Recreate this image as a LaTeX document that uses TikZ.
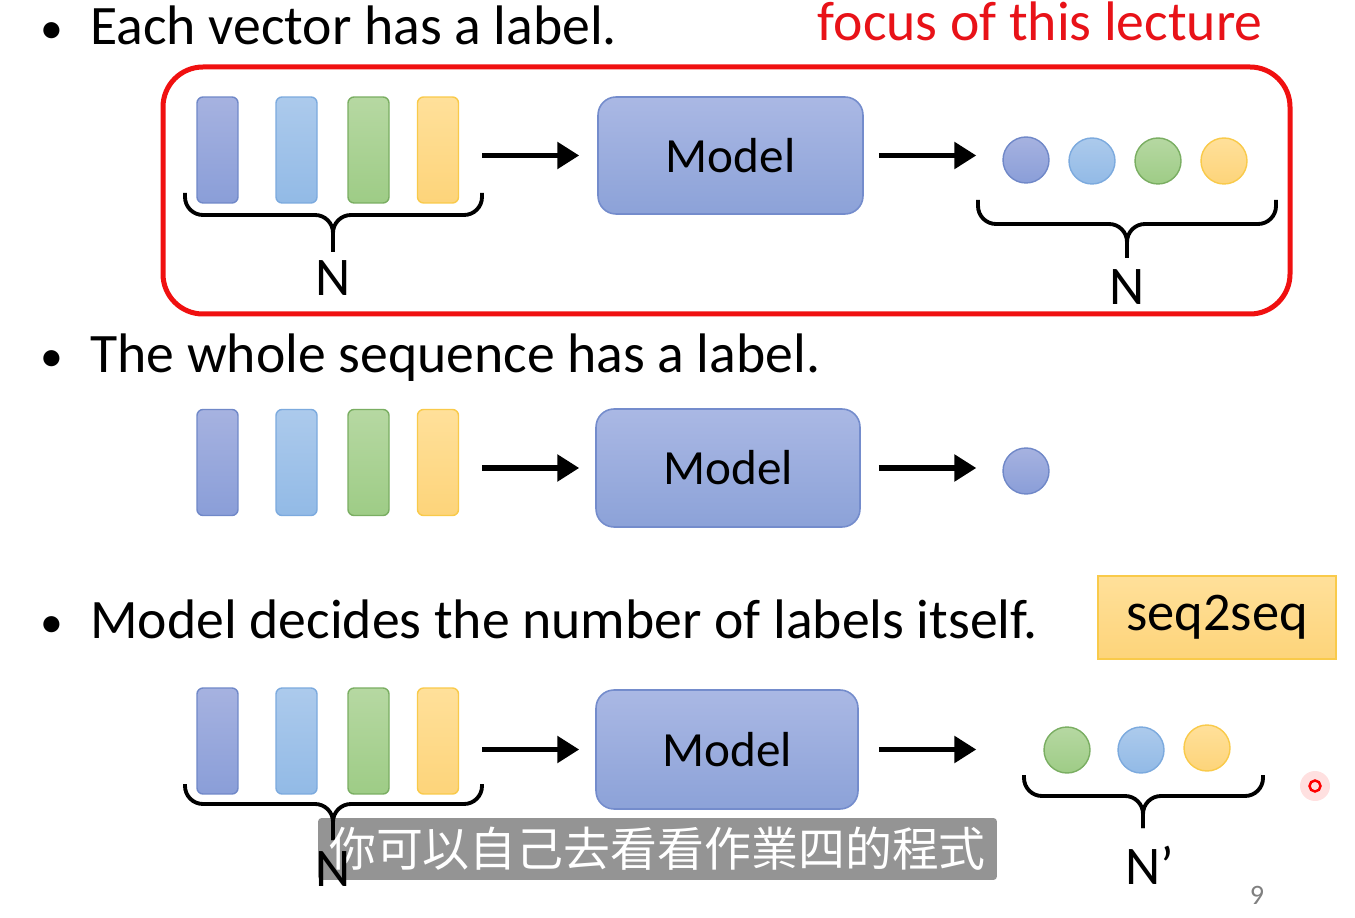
\documentclass[tikz,border=0pt]{standalone}
\usepackage{fontspec}
\setmainfont{Carlito}
\newfontfamily\cjk{Noto Sans CJK TC}
\usetikzlibrary{arrows.meta,positioning}
\definecolor{frameRed}{RGB}{240,16,16}
\definecolor{lectRed}{RGB}{232,18,24}
\definecolor{vblueT}{RGB}{166,178,224}
\definecolor{vblueB}{RGB}{138,158,216}
\definecolor{vblueL}{RGB}{112,136,200}
\definecolor{vskyT}{RGB}{172,202,236}
\definecolor{vskyB}{RGB}{146,186,230}
\definecolor{vskyL}{RGB}{124,170,222}
\definecolor{vgreenT}{RGB}{182,216,162}
\definecolor{vgreenB}{RGB}{158,204,134}
\definecolor{vgreenL}{RGB}{122,174,98}
\definecolor{vyellowT}{RGB}{255,224,154}
\definecolor{vyellowB}{RGB}{253,212,122}
\definecolor{vyellowL}{RGB}{249,202,74}
\definecolor{modelT}{RGB}{170,184,228}
\definecolor{modelB}{RGB}{140,162,216}
\definecolor{modelL}{RGB}{116,140,204}
\begin{document}
\begin{tikzpicture}[x=0.02cm, y=-0.02cm, >={Triangle[length=0.44cm,width=0.52cm]},
  vec/.style={draw, rounded corners=0.12cm, minimum width=0.82cm, minimum height=2.12cm, inner sep=0, line width=0.8pt},
  vecA/.style={vec, top color=vblueT, bottom color=vblueB, draw=vblueL},
  vecB/.style={vec, top color=vskyT, bottom color=vskyB, draw=vskyL},
  vecC/.style={vec, top color=vgreenT, bottom color=vgreenB, draw=vgreenL},
  vecD/.style={vec, top color=vyellowT, bottom color=vyellowB, draw=vyellowL},
  lab/.style={circle, minimum size=0.92cm, inner sep=0, line width=0.8pt},
  labA/.style={lab, top color=vblueT, bottom color=vblueB, draw=vblueL},
  labB/.style={lab, top color=vskyT, bottom color=vskyB, draw=vskyL},
  labC/.style={lab, top color=vgreenT, bottom color=vgreenB, draw=vgreenL},
  labD/.style={lab, top color=vyellowT, bottom color=vyellowB, draw=vyellowL},
  model/.style={draw=modelL, line width=0.9pt, rounded corners=0.36cm, top color=modelT, bottom color=modelB, font=\fontsize{28}{34}\selectfont},
  arr/.style={->, line width=3.3pt},
  curly/.style={line width=2.2pt, rounded corners=0.36cm},
  line/.style={anchor=base west, inner sep=0, font=\fontsize{31.7}{38}\selectfont},
  dot/.style={anchor=base, inner sep=0, font=\fontsize{26}{30}\selectfont},
  count/.style={inner sep=0, font=\fontsize{31}{36}\selectfont}]
\useasboundingbox[fill=white] (0,0) rectangle (1355,918);

% first case: one label per vector
\node[dot] (d1) at (52,44) {•};
\node[line] (t1) at (90,45) {Each vector has a label.};
\node[line, anchor=base east, text=lectRed] (focus) at (1263,41) {focus of this lecture};
\draw[frameRed, line width=0.1cm, rounded corners=0.8cm] (163,67) rectangle (1290,314);
\node[vecA] (a1) at (217.5,150) {};
\node[vecB] (a2) at (296.5,150) {};
\node[vecC] (a3) at (368.5,150) {};
\node[vecD] (a4) at (438,150) {};
\node[model, minimum width=5.3cm, minimum height=2.34cm] (m1) at (730.5,155.5) {Model};
\node[labA] (o1) at (1026,160) {};
\node[labB] (o2) at (1092,161) {};
\node[labC] (o3) at (1158,161) {};
\node[labD] (o4) at (1224,161) {};
\draw[arr, shorten <=0.46cm, shorten >=0.36cm] (a4.east |- m1) -- (m1);
\draw[arr, shorten <=0.3cm, shorten >=0.52cm] (m1) -- (m1 -| o1.west);
\draw[curly] (185,193) -- (185,215) -- (333,215) -- (333,252);
\draw[curly] (482,193) -- (482,215) -- (333,215) -- (333,252);
\draw[curly] (978,200) -- (978,224) -- (1127,224) -- (1127,258);
\draw[curly] (1276,200) -- (1276,224) -- (1127,224) -- (1127,258);
\node[count] (n1) at (333,278) {N};
\node[count] (n2) at (1127,287) {N};

% second case: one label for the sequence
\node[dot] (d2) at (52,372) {•};
\node[line] (t2) at (90,373) {The whole sequence has a label.};
\node[vecA] (b1) at (217.5,462.5) {};
\node[vecB] (b2) at (296.5,462.5) {};
\node[vecC] (b3) at (368.5,462.5) {};
\node[vecD] (b4) at (438,462.5) {};
\node[model, minimum width=5.28cm, minimum height=2.36cm] (m2) at (728,468) {Model};
\node[labA] (p1) at (1026,471) {};
\draw[arr, shorten <=0.46cm, shorten >=0.32cm] (b4.east |- m2) -- (m2);
\draw[arr, shorten <=0.36cm, shorten >=0.52cm] (m2) -- (m2 -| p1.west);

% third case: seq2seq
\node[dot] (d3) at (52,637) {•};
\node[line] (t3) at (90,638) {Model decides the number of labels itself.};
\node[draw=vyellowL, line width=0.9pt, top color=vyellowT, bottom color=vyellowB, minimum width=4.76cm, minimum height=1.66cm, font=\fontsize{31}{36}\selectfont] (s2s) at (1217,617.5) {seq2seq};
\node[vecA] (c1) at (217.5,741) {};
\node[vecB] (c2) at (296.5,741) {};
\node[vecC] (c3) at (368.5,741) {};
\node[vecD] (c4) at (438,741) {};
\node[model, minimum width=5.24cm, minimum height=2.38cm] (m3) at (727,749.5) {Model};
\node[labC] (q1) at (1067,750) {};
\node[labB] (q2) at (1141,750) {};
\node[labD] (q3) at (1207,748) {};
\draw[arr, shorten <=0.46cm, shorten >=0.32cm] (c4.east |- m3) -- (m3);
\draw[arr, shorten <=0.4cm, shorten >=1.34cm] (m3) -- (m3 -| q1.west);
\draw[curly] (185,784) -- (185,804) -- (333,804) -- (333,840);
\draw[curly] (482,784) -- (482,804) -- (333,804) -- (333,840);
\draw[curly] (1024,775) -- (1024,796) -- (1143,796) -- (1143,828);
\draw[curly] (1263,775) -- (1263,796) -- (1143,796) -- (1143,828);
\node[count] (n4) at (1150,865) {N’};

% pointer, subtitle and page number
\fill[red, opacity=0.12] (1315,786) circle (0.3cm);
\node[circle, draw=red, line width=1.4pt, minimum size=0.22cm, inner sep=0] (ptr) at (1315,786) {};
\node[fill=black, fill opacity=0.42, text opacity=1, text=white, rounded corners=2pt, minimum width=13.58cm, minimum height=1.24cm, inner sep=0, font=\cjk\fontsize{26.7}{30}\selectfont] (sub) at (657.5,849) {你可以自己去看看作業四的程式};
\node[count] (n3) at (333,869) {N};
\node[text=gray, font=\fontsize{16}{18}\selectfont] (pg) at (1257,895) {9};
\end{tikzpicture}
\end{document}
